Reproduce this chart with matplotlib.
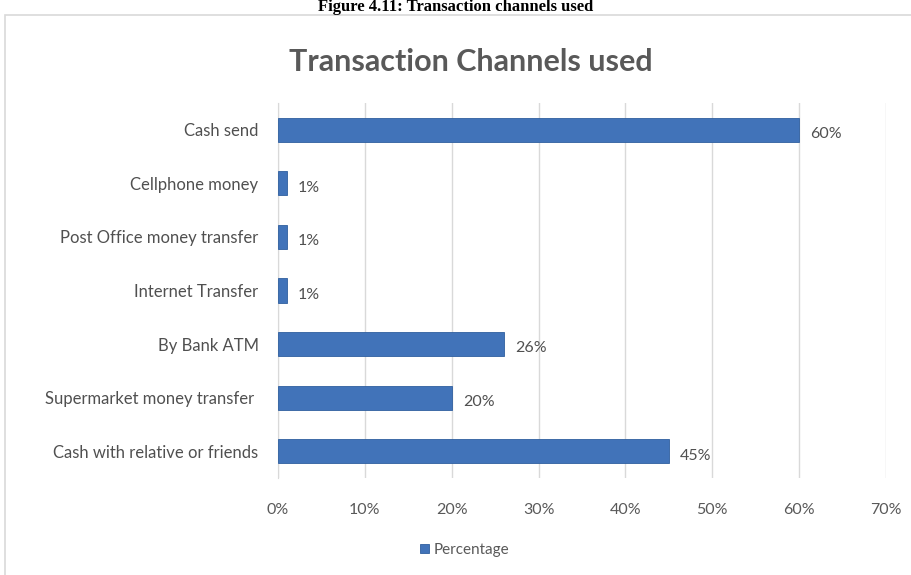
import matplotlib.pyplot as plt
from matplotlib.patches import Rectangle

# Data (top to bottom)
channels = ['Cash send', 'Cellphone money', 'Post Office money transfer',
            'Internet Transfer', 'By Bank ATM', 'Supermarket money transfer ',
            'Cash with relative or friends']
percentages = [60, 1, 1, 1, 26, 20, 45]
x_ticks = [0, 10, 20, 30, 40, 50, 60, 70]

bar_color = '#4173b9'
text_color = '#595959'

plt.rcParams['font.family'] = ['Lato', 'DejaVu Sans']

fig = plt.figure(figsize=(9.12, 5.75), dpi=100)

# Light frame around the chart area
fig.patches.append(Rectangle((5 / 912, -0.01), 1.0, 1 - 15 / 575 + 0.01,
                             transform=fig.transFigure, fill=False,
                             edgecolor='#d9d9d9', linewidth=1.2))

# Caption above the chart
fig.text(0.5, 1 - 7 / 575, 'Figure 4.11: Transaction channels used',
         ha='center', va='center', fontsize=12, fontweight='bold',
         family='Liberation Serif', color='black')

ax = fig.add_axes([278 / 912, 97 / 575, 608 / 912, 375 / 575])

positions = list(range(len(channels)))
ax.barh(positions, percentages, height=0.45, color=bar_color,
        edgecolor='#2f5f9f', linewidth=0.6, zorder=3, label='Percentage')

for pos, val in zip(positions, percentages):
    ax.text(val + 1.3, pos + 0.08, f'{val}%', va='center', ha='left',
            fontsize=11.5, color='#505050')

ax.set_yticks(positions)
ax.set_yticklabels(channels, fontsize=12, color='#505050')
ax.set_ylim(len(channels) - 0.5, -0.5)

ax.set_xlim(0, 70)
ax.set_xticks(x_ticks)
ax.set_xticklabels([f'{t}%' for t in x_ticks], fontsize=11.5, color=text_color)
ax.tick_params(axis='y', length=0, pad=14)
ax.tick_params(axis='x', length=0, pad=18)
ax.xaxis.grid(True, color='#d9d9d9', linewidth=1, zorder=0)
for side in ['top', 'right', 'bottom']:
    ax.spines[side].set_visible(False)
ax.spines['left'].set_color('#d9d9d9')

fig.text(471 / 912, 1 - 62 / 575, 'Transaction Channels used', ha='center',
         va='center', fontsize=22, fontweight='bold', color=text_color)

leg = fig.legend(loc='center', bbox_to_anchor=(465 / 912, 1 - 550 / 575),
                 frameon=False, fontsize=11, handlelength=0.6,
                 handleheight=0.6, handletextpad=0.3)
for t in leg.get_texts():
    t.set_color(text_color)

fig.savefig('out.png', dpi=100)
